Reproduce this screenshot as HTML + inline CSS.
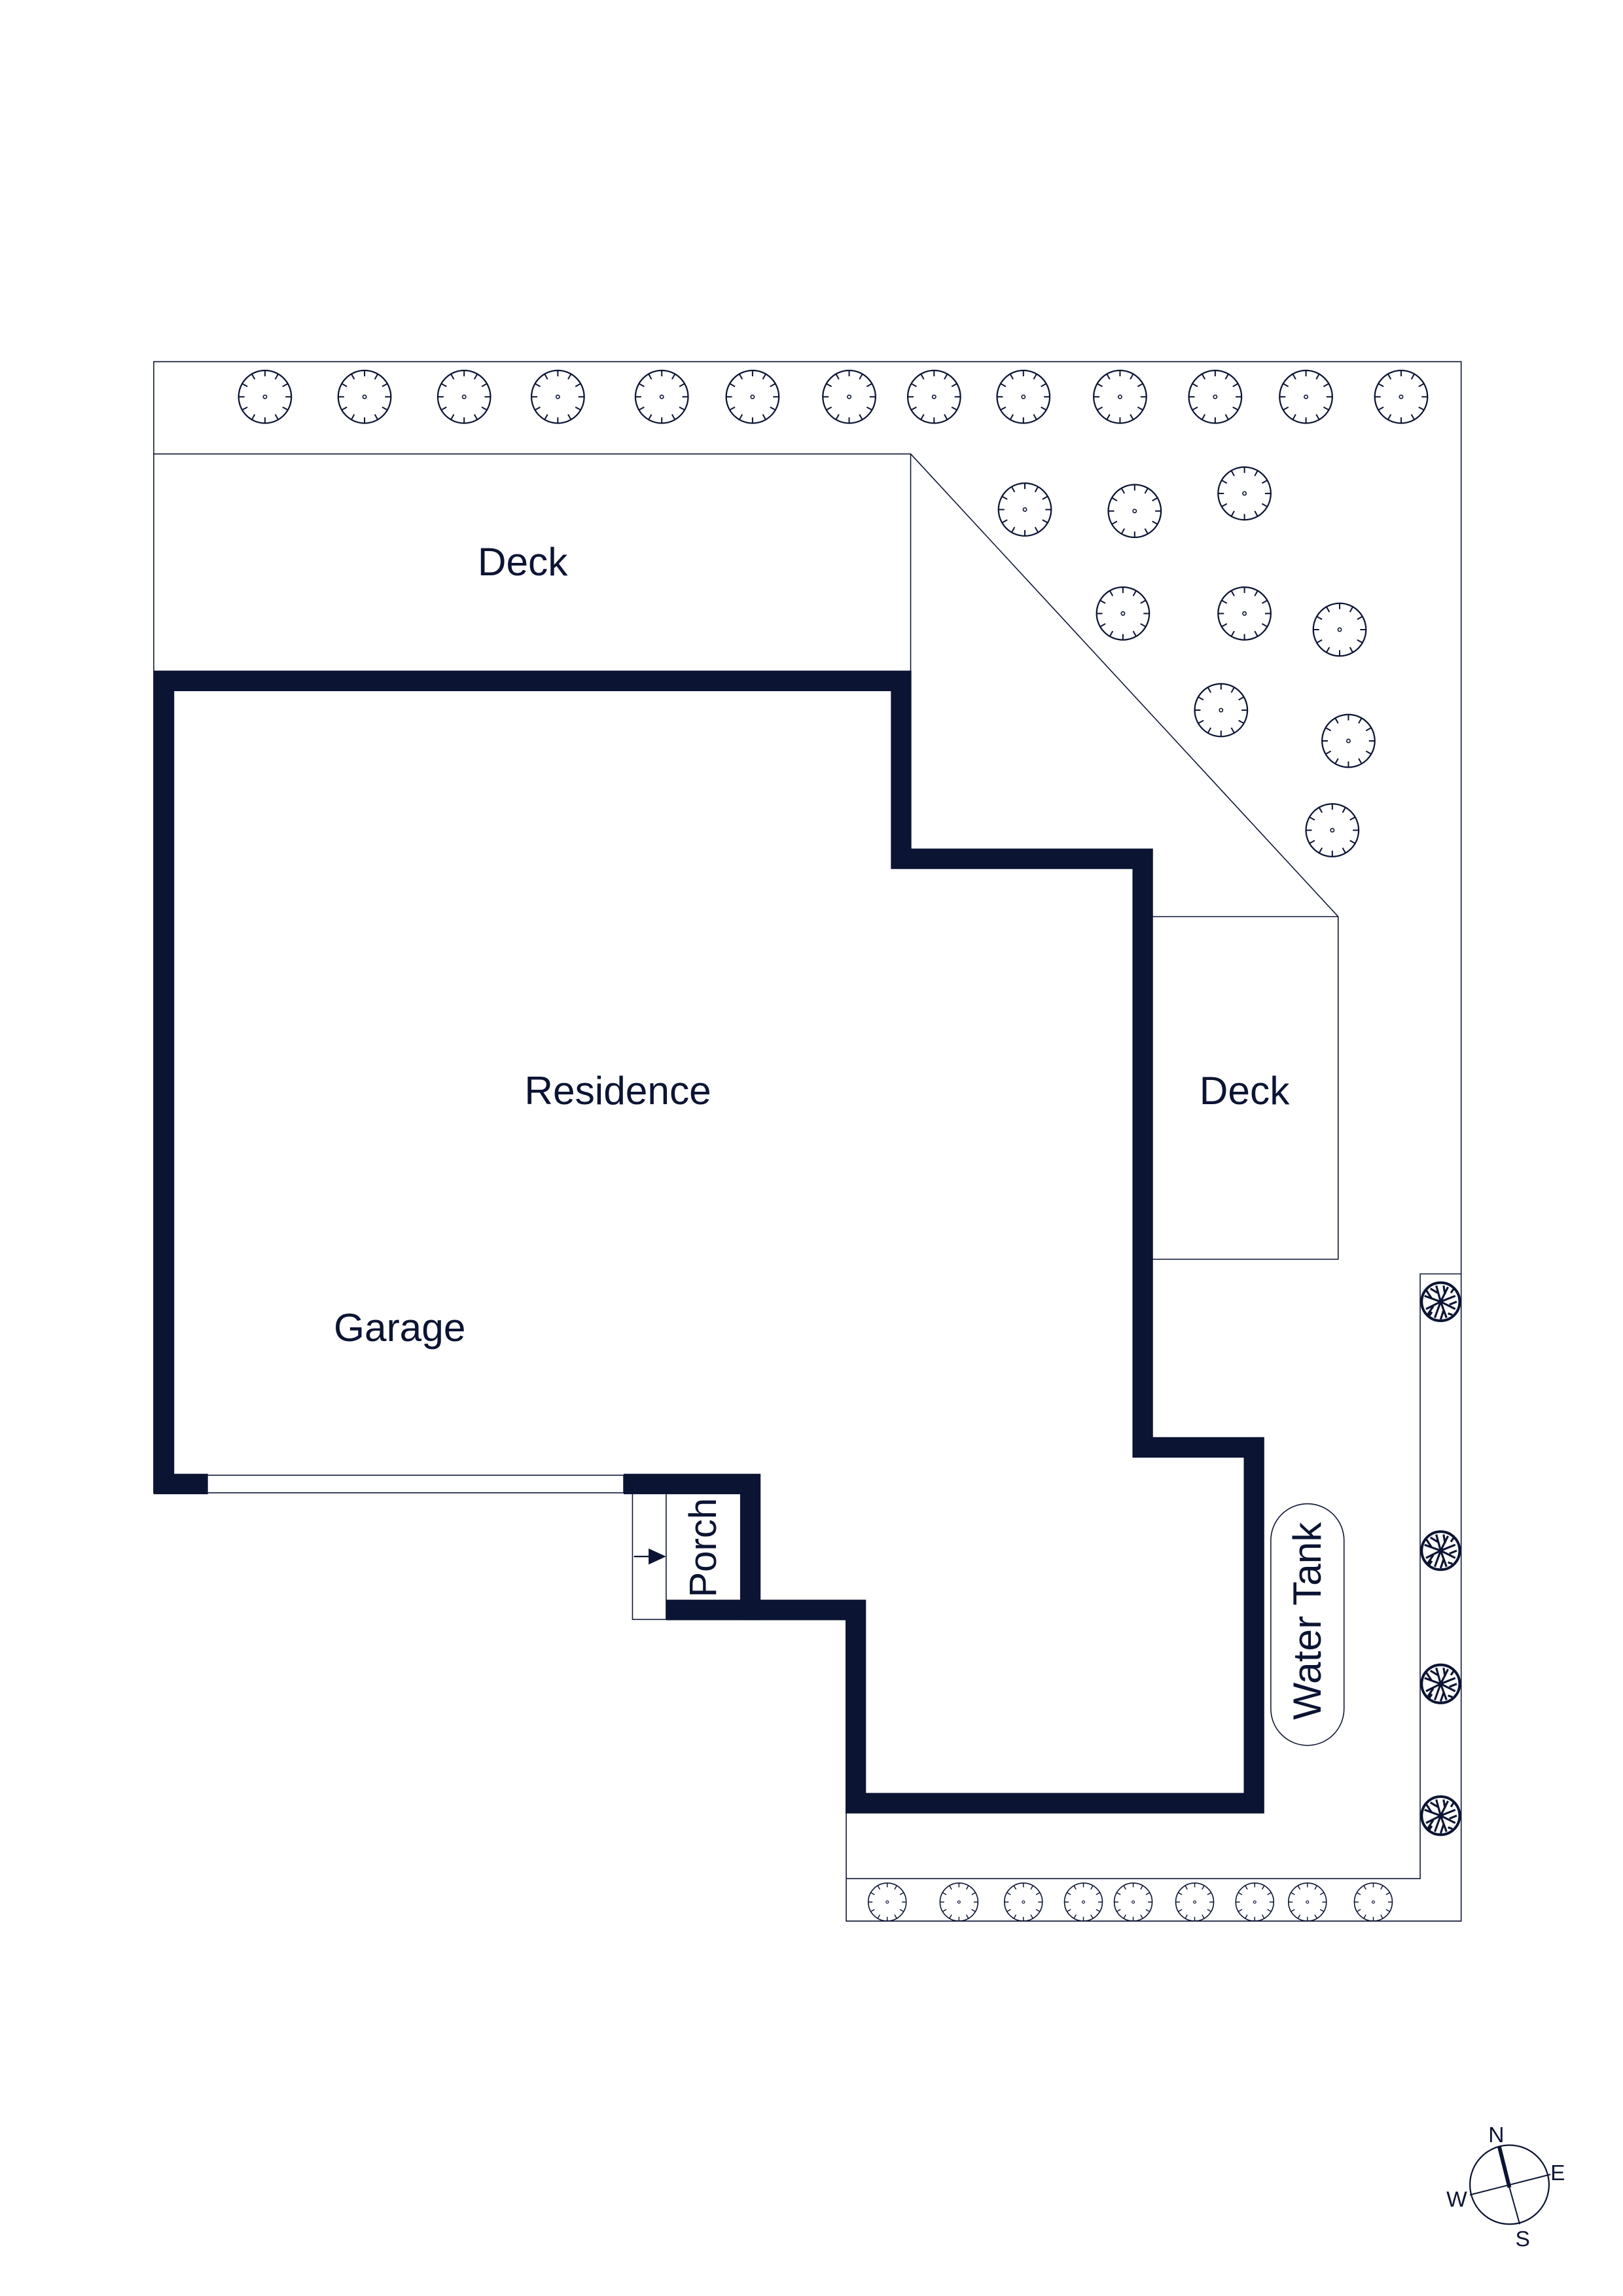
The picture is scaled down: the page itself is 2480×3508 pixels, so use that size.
<!DOCTYPE html>
<html><head><meta charset="utf-8"><style>
html,body{margin:0;padding:0;background:#fff;}
svg{display:block;}
text{font-family:"Liberation Sans",sans-serif;fill:#0b1433;}
</style></head><body>
<svg width="2480" height="3508" viewBox="0 0 1103 1560.2" xmlns="http://www.w3.org/2000/svg">
<defs>
<g id="t">
<circle r="18" fill="none" stroke="#0b1433" stroke-width="1"/>
<circle r="1.2" fill="none" stroke="#0b1433" stroke-width="0.7"/>
<g stroke="#0b1433" stroke-width="0.9">
<line x1="0" y1="-18" x2="0" y2="-14"/>
<line x1="9" y1="-15.6" x2="7" y2="-12"/>
<line x1="15.6" y1="-9" x2="12" y2="-7"/>
<line x1="18" y1="0" x2="14" y2="0"/>
<line x1="15.6" y1="9" x2="12" y2="7"/>
<line x1="9" y1="15.6" x2="7" y2="12"/>
<line x1="0" y1="18" x2="0" y2="14"/>
<line x1="-9" y1="15.6" x2="-7" y2="12"/>
<line x1="-15.6" y1="9" x2="-12" y2="7"/>
<line x1="-18" y1="0" x2="-14" y2="0"/>
<line x1="-15.6" y1="-9" x2="-12" y2="-7"/>
<line x1="-9" y1="-15.6" x2="-7" y2="-12"/>
</g>
</g>
<g id="ts"><use href="#t" transform="scale(0.72)"/></g>
<g id="d">
<circle r="13" fill="#fff" stroke="#0b1433" stroke-width="1.8"/>
<g stroke="#0b1433" stroke-width="1.4" fill="none">
<path d="M0 0 L-3 -11 M0 0 L5 -10 M0 0 L10 -4 M0 0 L10 5 M0 0 L4 11 M0 0 L-4 11 M0 0 L-10 5 M0 0 L-11 -4 M-2 -6 L-7 -9 M3 -5 L2 -11 M6 2 L11 0 M-5 3 L-9 9 M2 6 L0 12 M-6 -2 L-10 -8 M7 -6 L9 -9 M-6 7 L-8 10 M5 8 L8 9"/>
</g>
</g>
</defs>
<g transform="scale(0.995)">
<g fill="none" stroke="#0b1433" stroke-width="0.7">
<path d="M105 1020 L105 247 L998 247 L998 1312 L578 1312 L578 1238"/>
<path d="M105 310 L622 310 L914 626"/>
<line x1="622" y1="310" x2="622" y2="460"/>
<path d="M787 626 L914 626 L914 860 L787 860"/>
<path d="M998 870 L970 870 L970 1283 L578 1283"/>
<rect x="135" y="1007.5" width="291" height="12"/>
<rect x="432" y="1020" width="23" height="86"/>
<rect x="868" y="1027" width="50" height="165" rx="25"/>
</g>
<line x1="433" y1="1063" x2="446" y2="1063" stroke="#0b1433" stroke-width="1"/>
<polygon points="443,1057.5 455,1063 443,1068.5" fill="#0b1433"/>
<path d="M142 1013.5 L112 1013.5 L112 465 L615.5 465 L615.5 586.5 L780.5 586.5 L780.5 988.5 L856.5 988.5 L856.5 1231.5 L584.5 1231.5 L584.5 1099.5 L455 1099.5" fill="none" stroke="#0b1433" stroke-width="14" stroke-linejoin="miter"/>
<path d="M426 1013.5 L512.5 1013.5 L512.5 1106" fill="none" stroke="#0b1433" stroke-width="14"/>
<g>
<use href="#t" x="181" y="271"/><use href="#t" x="249" y="271"/><use href="#t" x="317" y="271"/><use href="#t" x="381" y="271"/><use href="#t" x="452" y="271"/><use href="#t" x="514" y="271"/><use href="#t" x="580" y="271"/><use href="#t" x="638" y="271"/><use href="#t" x="699" y="271"/><use href="#t" x="765" y="271"/><use href="#t" x="830" y="271"/><use href="#t" x="892" y="271"/><use href="#t" x="957" y="271"/>
<use href="#t" x="700" y="348"/><use href="#t" x="775" y="349"/><use href="#t" x="850" y="337"/><use href="#t" x="767" y="419"/><use href="#t" x="850" y="419"/><use href="#t" x="915" y="430"/><use href="#t" x="834" y="485"/><use href="#t" x="921" y="506"/><use href="#t" x="910" y="567"/>
</g>
<g>
<use href="#ts" transform="translate(606 1299)"/><use href="#ts" transform="translate(655 1299)"/><use href="#ts" transform="translate(699 1299)"/><use href="#ts" transform="translate(740 1299)"/><use href="#ts" transform="translate(774 1299)"/><use href="#ts" transform="translate(816 1299)"/><use href="#ts" transform="translate(857 1299)"/><use href="#ts" transform="translate(893 1299)"/><use href="#ts" transform="translate(938 1299)"/>
</g>
<use href="#d" x="984" y="889"/><use href="#d" x="984" y="1059"/><use href="#d" x="984" y="1150"/><use href="#d" x="984" y="1240"/>
<text x="357" y="393" font-size="27" text-anchor="middle">Deck</text>
<text x="422" y="754" font-size="27" text-anchor="middle">Residence</text>
<text x="850" y="754" font-size="27" text-anchor="middle">Deck</text>
<text x="273" y="916" font-size="27" text-anchor="middle">Garage</text>
<text transform="translate(489 1057) rotate(-90)" font-size="26" text-anchor="middle">Porch</text>
<text transform="translate(902 1107) rotate(-90)" font-size="27" text-anchor="middle">Water Tank</text>
<g stroke="#0b1433" fill="none">
<circle cx="1031" cy="1492" r="27" stroke-width="1"/>
<line x1="1004" y1="1499" x2="1059" y2="1485" stroke-width="0.9"/>
<line x1="1031" y1="1494" x2="1038" y2="1519" stroke-width="0.9"/>
<line x1="1024" y1="1466" x2="1031" y2="1494" stroke-width="2.6"/>
</g>
<text x="1022" y="1463" font-size="15" text-anchor="middle">N</text>
<text x="1064" y="1489" font-size="15" text-anchor="middle">E</text>
<text x="995" y="1507" font-size="15" text-anchor="middle">W</text>
<text x="1040" y="1534" font-size="15" text-anchor="middle">S</text>
</g>
</svg>
</body></html>
